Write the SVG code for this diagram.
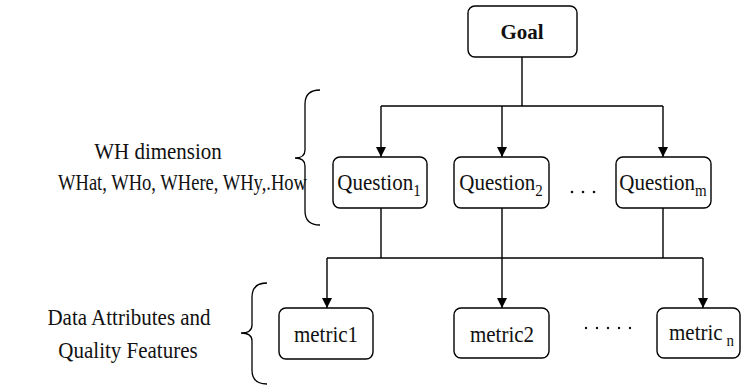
<svg xmlns="http://www.w3.org/2000/svg" width="743" height="385" viewBox="0 0 743 385">
  <style>
    .box { fill: #ffffff; stroke: #000000; stroke-width: 1.4; }
    .lbl { font-family: "Liberation Serif", "Times New Roman", serif; font-size: 21px; fill: #111111; }
    .goal { font-family: "Liberation Serif", "Times New Roman", serif; font-size: 21px; font-weight: bold; fill: #111111; }
    .sub { font-size: 15px; }
    .wire { fill: none; stroke: #000000; stroke-width: 1.4; }
    .brace { fill: none; stroke: #000000; stroke-width: 1.3; }
    .dot { fill: #111111; }
  </style>
  <defs>
    <marker id="arrow" viewBox="0 0 10 10" refX="10" refY="5" markerWidth="10" markerHeight="10" markerUnits="userSpaceOnUse" orient="auto">
      <path d="M0,0 L10,5 L0,10 z" fill="#000000"/>
    </marker>
  </defs>

  <rect width="743" height="385" fill="#ffffff"/>

  <!-- connectors -->
  <g id="connectors">
    <path class="wire" d="M522,57 V106"/>
    <path class="wire" d="M381,106 H663"/>
    <path class="wire" d="M381,106 V157" marker-end="url(#arrow)"/>
    <path class="wire" d="M502,106 V157" marker-end="url(#arrow)"/>
    <path class="wire" d="M663,106 V157" marker-end="url(#arrow)"/>
    <path class="wire" d="M381,208 V258"/>
    <path class="wire" d="M663,208 V258"/>
    <path class="wire" d="M327,258 H703"/>
    <path class="wire" d="M327,258 V308" marker-end="url(#arrow)"/>
    <path class="wire" d="M502,208 V308" marker-end="url(#arrow)"/>
    <path class="wire" d="M703,258 V308" marker-end="url(#arrow)"/>
  </g>

  <!-- goal -->
  <g id="goal">
    <rect class="box" x="468" y="6" width="109" height="51" rx="7"/>
    <text class="goal" x="522" y="39" text-anchor="middle">Goal</text>
  </g>

  <!-- questions -->
  <g id="question1">
    <rect class="box" x="333" y="157" width="94" height="51" rx="7"/>
    <text class="lbl" transform="translate(379,190) scale(1,1.12)" text-anchor="middle">Question<tspan class="sub" dy="5">1</tspan></text>
  </g>
  <g id="question2">
    <rect class="box" x="454" y="157" width="95" height="51" rx="7"/>
    <text class="lbl" transform="translate(501,190) scale(1,1.12)" text-anchor="middle">Question<tspan class="sub" dy="5">2</tspan></text>
  </g>
  <g id="question-dots">
    <circle class="dot" cx="572" cy="192" r="1.3"/>
    <circle class="dot" cx="583" cy="192" r="1.3"/>
    <circle class="dot" cx="594" cy="192" r="1.3"/>
  </g>
  <g id="questionm">
    <rect class="box" x="616" y="157" width="95" height="51" rx="7"/>
    <text class="lbl" transform="translate(663,190) scale(1,1.12)" text-anchor="middle">Question<tspan class="sub" dy="5">m</tspan></text>
  </g>

  <!-- metrics -->
  <g id="metric1">
    <rect class="box" x="279" y="308" width="94" height="51" rx="7"/>
    <text class="lbl" transform="translate(326,342) scale(1,1.12)" text-anchor="middle">metric1</text>
  </g>
  <g id="metric2">
    <rect class="box" x="454" y="308" width="95" height="50" rx="7"/>
    <text class="lbl" transform="translate(502,342) scale(1,1.12)" text-anchor="middle">metric2</text>
  </g>
  <g id="metric-dots">
    <circle class="dot" cx="586" cy="328" r="1.2"/>
    <circle class="dot" cx="597" cy="328" r="1.2"/>
    <circle class="dot" cx="608" cy="328" r="1.2"/>
    <circle class="dot" cx="619" cy="328" r="1.2"/>
    <circle class="dot" cx="630" cy="328" r="1.2"/>
  </g>
  <g id="metricn">
    <rect class="box" x="657" y="308" width="83" height="50" rx="7"/>
    <text class="lbl" transform="translate(669,340) scale(1,1.12)">metric<tspan class="sub" dx="4" dy="5">n</tspan></text>
  </g>

  <!-- side annotations -->
  <g id="wh-annotation">
    <path class="brace" d="M320,90 Q305,90 305,104 L305,150 Q305,158 295,158 Q305,158 305,166 L305,211 Q305,225 320,225"/>
    <text class="lbl" transform="translate(158,159) scale(1,1.12)" text-anchor="middle">WH dimension</text>
    <text class="lbl" transform="translate(58,190) scale(1,1.12)" textLength="249" lengthAdjust="spacingAndGlyphs">WHat, WHo, WHere, WHy,.How</text>
  </g>
  <g id="data-annotation">
    <path class="brace" d="M267,283 Q252,283 252,297 L252,325 Q252,333 241,333 Q252,333 252,341 L252,370 Q252,384 267,384"/>
    <text class="lbl" transform="translate(129,325) scale(1,1.12)" text-anchor="middle">Data Attributes and</text>
    <text class="lbl" transform="translate(128,358) scale(1,1.12)" text-anchor="middle">Quality Features</text>
  </g>
</svg>
